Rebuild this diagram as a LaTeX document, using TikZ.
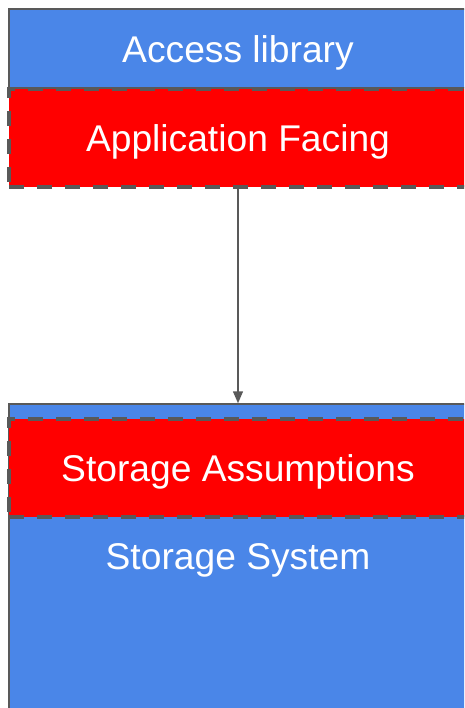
\documentclass[tikz,border=0pt]{standalone}
\usepackage{fontspec}
\setmainfont{Liberation Sans}
\usetikzlibrary{arrows.meta}
\definecolor{layerblue}{HTML}{4A86E8}
\definecolor{layerred}{HTML}{FF0000}
\definecolor{edgegray}{HTML}{595959}
\tikzset{
  layer/.style={draw=edgegray, line width=1.5pt, fill=layerblue, rectangle, inner sep=0pt},
  iface/.style={draw=edgegray, line width=3.5pt, dash pattern=on 15pt off 13pt, fill=layerred, rectangle, inner sep=0pt},
  label/.style={text=white, font=\fontsize{37.2}{41}\selectfont, inner sep=0pt},
  link/.style={draw=edgegray, line width=1.5pt, -{Triangle[length=12pt,width=10pt]}}
}
\begin{document}
\begin{tikzpicture}[x=1pt,y=-1pt]
  \useasboundingbox (0,0) rectangle (464,708);
  \clip (0,0) rectangle (464,708);
  % upper stack
  \node[layer, minimum width=458pt, minimum height=79pt] (lib) at (238,48.5) {};
  \node[iface, minimum width=458pt, minimum height=98pt] (app) at (238,138) {};
  % lower stack
  \node[layer, minimum width=458pt, minimum height=330pt] (sys) at (238,569) {};
  \node[iface, minimum width=458pt, minimum height=98pt] (assume) at (238,468) {};
  % labels
  \node[label] (libtxt) at (238,53) {Access library};
  \node[label] (apptxt) at (238,142) {Application Facing};
  \node[label] (assumetxt) at (238,472) {Storage Assumptions};
  \node[label] (systxt) at (238,560) {Storage System};
  % connector
  \draw[link] (app.south) -- (sys.north);
\end{tikzpicture}
\end{document}
